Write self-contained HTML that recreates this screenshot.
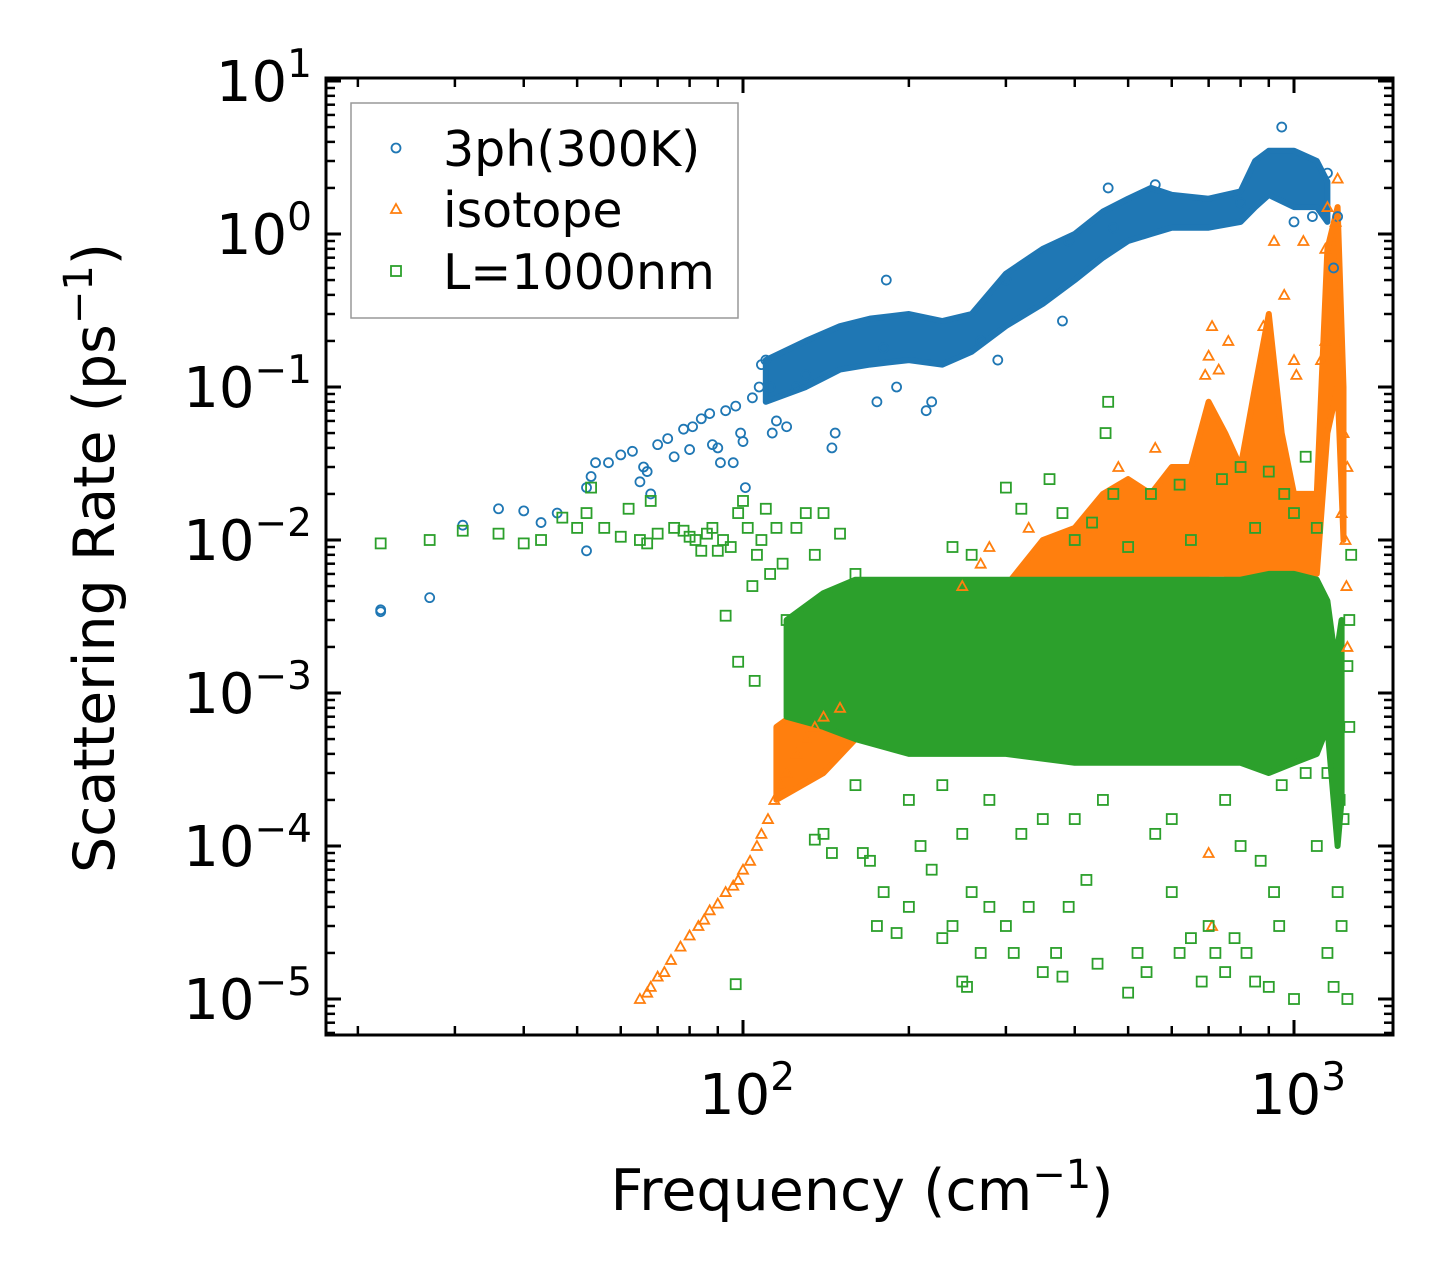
<!DOCTYPE html>
<html><head><meta charset="utf-8">
<style>
html,body{margin:0;padding:0;background:#fff;}
svg{display:block;font-family:"DejaVu Sans","Liberation Sans",sans-serif;}
</style></head>
<body>
<svg id="chart" width="1455" height="1285" viewBox="0 0 1455 1285" xmlns="http://www.w3.org/2000/svg">
<g id="bands"></g>
<g id="marks"></g>
<rect x="326" y="78" width="1067" height="957" fill="none" stroke="#000" stroke-width="3"/>
<g id="ticks"></g>
<g id="labels"></g>
<text x="862" y="1210" font-size="57" text-anchor="middle">Frequency (cm<tspan font-size="40" dy="-22">−1</tspan><tspan dy="22">)</tspan></text>
<text transform="translate(114,558) rotate(-90)" font-size="57" text-anchor="middle">Scattering Rate (ps<tspan font-size="40" dy="-22">−1</tspan><tspan dy="22">)</tspan></text>
<g>
<rect x="351" y="103" width="387" height="215" fill="#fff" fill-opacity="0.8" stroke="#999" stroke-width="1.5"/>
<circle cx="396" cy="148" r="4.5" fill="none" stroke="#1f77b4" stroke-width="1.8"/>
<text x="443" y="166" font-size="49">3ph(300K)</text>
<path d="M396,204 L401,213 L391,213 Z" fill="none" stroke="#ff7f0e" stroke-width="1.8"/>
<text x="443" y="227" font-size="49">isotope</text>
<rect x="391" y="266" width="10" height="10" fill="none" stroke="#2ca02c" stroke-width="1.8"/>
<text x="443" y="289" font-size="49">L=1000nm</text>
</g>
</svg>
<script>
// ---- data (frequency cm^-1, rate ps^-1) ----
const blueBandF  = [110,130,150,170,200,230,260,300,350,400,450,500,550,600,700,800,850,900,1000,1100,1150];
const blueBandLo = [0.08,0.1,0.13,0.14,0.15,0.14,0.17,0.25,0.35,0.5,0.7,0.9,1.0,1.1,1.1,1.2,1.5,1.8,1.5,1.5,1.2];
const blueBandHi = [0.15,0.2,0.25,0.28,0.3,0.27,0.3,0.55,0.8,1.0,1.4,1.7,2.0,1.8,1.7,1.9,3.0,3.5,3.5,3.0,2.2];
const blueF = [22,22,27,31,36,40,43,46,52,52,53,54,57,60,63,65,66,67,68,70,73,75,78,80,81,84,87,88,90,91,93,96,97,99,100,101,104,107,108,110,112,113,115,120,125,130,145,147,175,180,182,190,215,220,270,290,300,380,390,460,470,560,800,950,1000,1080,1180,1200,1150];
const blueV = [3.5e-3,3.4e-3,4.2e-3,1.25e-2,1.6e-2,1.55e-2,1.3e-2,1.5e-2,8.5e-3,2.2e-2,2.6e-2,3.2e-2,3.2e-2,3.6e-2,3.8e-2,2.4e-2,3e-2,2.8e-2,2.0e-2,4.2e-2,4.6e-2,3.5e-2,5.3e-2,3.9e-2,5.5e-2,6.2e-2,6.7e-2,4.2e-2,4.0e-2,3.2e-2,7e-2,3.2e-2,7.5e-2,5e-2,4.4e-2,2.2e-2,8.5e-2,0.1,0.14,0.15,0.1,0.05,0.06,0.055,0.1,0.12,0.04,0.05,0.08,0.18,0.5,0.1,0.07,0.08,0.2,0.15,0.5,0.27,0.9,2,1.1,2.1,1.6,5,1.2,1.3,0.6,1.3,2.5];

const orangeBandF  = [115,140,160,300,350,400,450,500,550,600,650,700,750,800,850,900,950,1000,1100,1150,1200,1230];
const orangeBandLo = [2e-4,3e-4,5e-4,1e-3,2e-3,3e-3,3e-3,4e-3,4e-3,5e-3,5e-3,6e-3,6e-3,5e-3,5e-3,4e-3,4e-3,5e-3,6e-3,0.05,0.1,1e-2];
const orangeBandHi = [6e-4,1e-3,2e-3,5e-3,1e-2,1.2e-2,2e-2,2.5e-2,2e-2,3e-2,3e-2,8e-2,5e-2,3e-2,0.1,0.3,0.05,0.02,0.02,0.8,1.5,0.1];
const orangeF = [65,67,68,70,72,74,77,80,83,85,87,90,93,96,98,100,103,106,108,111,114,117,120,125,130,135,140,150,1200,1150,1190,1140,1000,1010,1040,920,960,880,760,700,710,690,730,1140,1120,1230,1250,1240,1245,1250,1220,700,710,560,480,420,330,280,270,250];
const orangeV = [1e-5,1.1e-5,1.2e-5,1.4e-5,1.5e-5,1.8e-5,2.2e-5,2.6e-5,3e-5,3.3e-5,3.8e-5,4.2e-5,5e-5,5.5e-5,6e-5,7e-5,8e-5,1e-4,1.2e-4,1.5e-4,2e-4,2.5e-4,3e-4,4e-4,5e-4,6e-4,7e-4,8e-4,2.3,1.5,1.2,0.8,0.15,0.12,0.9,0.9,0.4,0.25,0.2,0.16,0.25,0.12,0.13,0.2,0.15,0.05,0.03,0.01,0.005,0.002,0.015,9e-5,3e-5,0.04,0.03,0.012,0.012,0.009,0.007,0.005];

const greenBandF  = [120,140,160,200,300,400,500,600,700,800,900,1000,1100,1150,1180,1200,1220];
const greenBandLo = [7e-4,6e-4,5e-4,4e-4,4e-4,3.5e-4,3.5e-4,3.5e-4,3.5e-4,3.5e-4,3e-4,3.5e-4,4e-4,6e-4,2e-4,1e-4,2e-4];
const greenBandHi = [3e-3,4.5e-3,5.5e-3,5.5e-3,5.5e-3,5.5e-3,5.5e-3,5.5e-3,5.5e-3,5.5e-3,6e-3,6e-3,5.5e-3,4e-3,2e-3,2e-3,3e-3];
const greenF = [22,27,31,36,40,43,47,50,52,53,56,60,62,65,67,68,70,75,78,80,82,84,86,88,90,92,93,95,98,100,102,104,106,108,110,112,115,118,120,98,105,97,125,130,135,140,150,160,135,140,145,165,170,175,180,190,200,210,220,230,240,250,255,260,270,280,300,310,320,330,350,370,380,390,400,420,440,460,455,470,500,520,540,560,600,620,650,680,700,720,750,780,800,820,850,870,900,920,940,1000,1050,1100,1150,1180,1220,1250,1250,1260,1270,1260,360,300,320,380,550,620,740,800,900,960,1000,1100,1050,240,260,400,430,500,650,850,250,280,350,450,600,750,950,1150,1200,1210,1190,1230,160,200,230];
const greenV = [9.5e-3,1e-2,1.15e-2,1.1e-2,9.5e-3,1e-2,1.4e-2,1.2e-2,1.5e-2,2.2e-2,1.2e-2,1.05e-2,1.6e-2,1e-2,9.5e-3,1.8e-2,1.1e-2,1.2e-2,1.15e-2,1.05e-2,1.0e-2,8.5e-3,1.1e-2,1.2e-2,8.5e-3,1.0e-2,3.2e-3,9e-3,1.5e-2,1.8e-2,1.2e-2,5e-3,8e-3,1.0e-2,1.6e-2,6e-3,1.2e-2,7e-3,3e-3,1.6e-3,1.2e-3,1.25e-5,1.2e-2,1.5e-2,8e-3,1.5e-2,1.1e-2,6e-3,1.1e-4,1.2e-4,9e-5,9e-5,8e-5,3e-5,5e-5,2.7e-5,4e-5,1e-4,7e-5,2.5e-5,3e-5,1.3e-5,1.2e-5,5e-5,2e-5,4e-5,3e-5,2e-5,1.2e-4,4e-5,1.5e-5,2e-5,1.4e-5,4e-5,1.5e-4,6e-5,1.7e-5,0.08,0.05,0.02,1.1e-5,2e-5,1.5e-5,1.2e-4,5e-5,2e-5,2.5e-5,1.3e-5,3e-5,2e-5,1.5e-5,2.5e-5,1e-4,2e-5,1.3e-5,8e-5,1.2e-5,5e-5,3e-5,1e-5,3e-4,1e-4,2e-5,1.2e-5,3e-5,1e-5,1.5e-3,3e-3,8e-3,6e-4,2.5e-2,2.2e-2,1.6e-2,1.5e-2,2e-2,2.3e-2,2.5e-2,3e-2,2.8e-2,2e-2,1.5e-2,1.2e-2,3.5e-2,9e-3,8e-3,1e-2,1.3e-2,9e-3,1e-2,1.2e-2,1.2e-4,2e-4,1.5e-4,2e-4,1.5e-4,2e-4,2.5e-4,3e-4,5e-5,2e-4,8e-4,1.5e-4,2.5e-4,2e-4,2.5e-4];

const xMajor = [100,1000];
const xMajorExp = ["2","3"];
const yMajor = [10,1,0.1,0.01,0.001,0.0001,0.00001];
const yMajorExp = ["1","0","−1","−2","−3","−4","−5"];

// ---- axes ----
const X0=743, XD=551, Y0=234, YD=153;
const xs = f => X0 + XD*(Math.log10(f)-2);
const ys = v => Y0 - YD*Math.log10(v);
const NS="http://www.w3.org/2000/svg";
function mk(tag, parent){const e=document.createElementNS(NS,tag);parent.appendChild(e);return e;}

const L=326,R=1393,T=78,B=1035;
const bands=document.getElementById('bands'), marks=document.getElementById('marks');

function band(F,Lo,Hi,color,name,op){
  let pts=F.map((f,i)=>xs(f).toFixed(1)+','+ys(Hi[i]).toFixed(1));
  for(let i=F.length-1;i>=0;i--) pts.push(xs(F[i]).toFixed(1)+','+ys(Lo[i]).toFixed(1));
  const p=mk('polygon',bands);
  
  
  p.setAttribute('points',pts.join(' '));
  p.setAttribute('fill',color);p.setAttribute('fill-opacity',op);
  p.setAttribute('stroke',color);p.setAttribute('stroke-width','6');p.setAttribute('stroke-linejoin','round');
}
function circles(F,V){
  F.forEach((f,i)=>{const c=mk('circle',marks);
    
    
    c.setAttribute('cx',xs(f));c.setAttribute('cy',ys(V[i]));c.setAttribute('r',4.5);
    c.setAttribute('fill','none');c.setAttribute('stroke','#1f77b4');c.setAttribute('stroke-width',1.8);});
}
function tris(F,V){
  F.forEach((f,i)=>{const x=xs(f),y=ys(V[i]);const p=mk('path',marks);
    
    
    p.setAttribute('d',`M${x},${y-5} L${x+5},${y+4} L${x-5},${y+4} Z`);
    p.setAttribute('fill','none');p.setAttribute('stroke','#ff7f0e');p.setAttribute('stroke-width',1.8);});
}
function squares(F,V){
  F.forEach((f,i)=>{const r=mk('rect',marks);
    
    
    r.setAttribute('x',xs(f)-5);r.setAttribute('y',ys(V[i])-5);r.setAttribute('width',10);r.setAttribute('height',10);
    r.setAttribute('fill','none');r.setAttribute('stroke','#2ca02c');r.setAttribute('stroke-width',1.8);});
}
band(blueBandF,blueBandLo,blueBandHi,'#1f77b4','band-3ph','1');
circles(blueF,blueV);
band(orangeBandF,orangeBandLo,orangeBandHi,'#ff7f0e','band-isotope','1');
tris(orangeF,orangeV);
band(greenBandF,greenBandLo,greenBandHi,'#2ca02c','band-boundary','1');
squares(greenF,greenV);

// ---- ticks ----
const tk=document.getElementById('ticks');
function line(x1,y1,x2,y2,w){const l=mk('line',tk);
  
  
  l.setAttribute('x1',x1);l.setAttribute('y1',y1);l.setAttribute('x2',x2);l.setAttribute('y2',y2);
  l.setAttribute('stroke','#000');l.setAttribute('stroke-width',w);}
for(let e=1;e<=3;e++){for(let m=1;m<10;m++){const f=m*Math.pow(10,e);const x=xs(f);
  if(x<L||x>R)continue;const len=m===1?15:9,w=m===1?3:2.5;
  line(x,B,x,B-len,w);line(x,T,x,T+len,w);}}
for(let e=-6;e<=1;e++){for(let m=1;m<10;m++){const v=m*Math.pow(10,e);const y=ys(v);
  if(y<T||y>B)continue;const len=m===1?15:9,w=m===1?3:2.5;
  line(L,y,L+len,y,w);line(R,y,R-len,y,w);}}

// ---- tick labels ----
const lb=document.getElementById('labels');
xMajor.forEach((f,i)=>{const t=mk('text',lb);
  
  
  t.setAttribute('x',xs(f)+4);t.setAttribute('y',1114);t.setAttribute('font-size',56);t.setAttribute('text-anchor','middle');
  t.innerHTML='10<tspan font-size="39" dy="-24">'+xMajorExp[i]+'</tspan>';});
yMajor.forEach((v,i)=>{const t=mk('text',lb);
  
  
  t.setAttribute('x',312);t.setAttribute('y',ys(v)+20);t.setAttribute('font-size',56);t.setAttribute('text-anchor','end');
  t.innerHTML='10<tspan font-size="39" dy="-24">'+yMajorExp[i]+'</tspan>';});
</script>
</body></html>
